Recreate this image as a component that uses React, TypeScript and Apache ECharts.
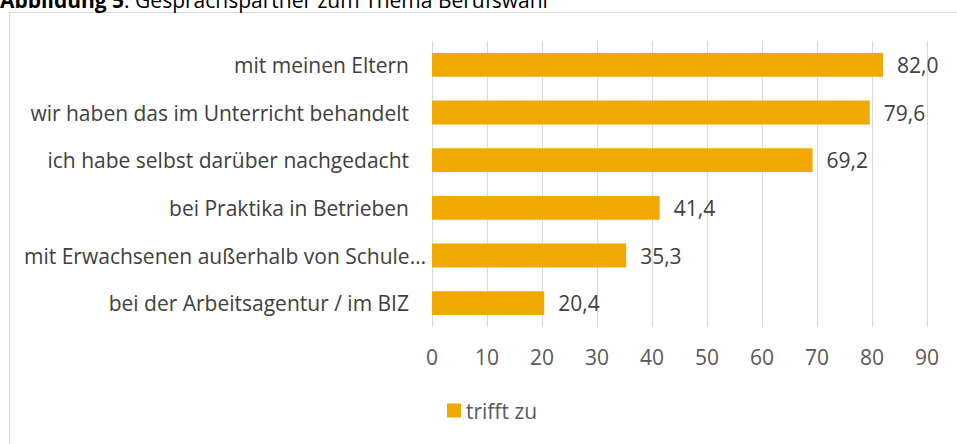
import React, { useEffect, useRef } from "react";
import * as echarts from "echarts";

const categories = [
  "mit meinen Eltern",
  "wir haben das im Unterricht behandelt",
  "ich habe selbst darüber nachgedacht",
  "bei Praktika in Betrieben",
  "mit Erwachsenen außerhalb von Schule…",
  "bei der Arbeitsagentur / im BIZ",
];
const values = [82.0, 79.6, 69.2, 41.4, 35.3, 20.4];
const seriesName = "trifft zu";
const titleBold = "Abbildung 5";
const titleRest = ": Gesprächspartner zum Thema Berufswahl";

const FONT = "'Open Sans', sans-serif";
const FS = 21;

export default function App() {
  const ref = useRef<HTMLDivElement>(null);
  useEffect(() => {
    const chart = echarts.init(ref.current!, null, { renderer: "svg" });
    chart.setOption({
      animation: false,
      backgroundColor: "#ffffff",
      textStyle: { fontFamily: FONT },
      graphic: [
        {
          type: "rect",
          shape: { x: 9.5, y: 12.5, width: 960, height: 440 },
          style: { fill: "none", stroke: "#d9d9d9", lineWidth: 1 },
          silent: true,
        },
        {
          type: "text",
          x: 0,
          y: 10,
          style: {
            text: `{b|${titleBold}}{r|${titleRest}}`,
            verticalAlign: "bottom",
            rich: {
              b: { fontFamily: FONT, fontSize: FS, fontWeight: "bold", fill: "#000" },
              r: { fontFamily: FONT, fontSize: FS, fill: "#000" },
            },
          },
        },
      ],
      grid: { left: 432, right: 30, top: 41, bottom: 117, containLabel: false },
      xAxis: {
        type: "value",
        min: 0,
        max: 90,
        interval: 10,
        axisLine: { show: false },
        axisTick: { show: false },
        splitLine: { lineStyle: { color: "#d9d9d9", width: 1 } },
        axisLabel: { color: "#595959", fontSize: FS, margin: 19, fontFamily: FONT },
      },
      yAxis: {
        type: "category",
        inverse: true,
        data: categories,
        axisLine: { show: false },
        axisTick: { show: false },
        axisLabel: {
          margin: 6,
          formatter: (v: string) => (v.endsWith("…") ? `{b|${v}}` : `{a|${v}}`),
          rich: {
            a: { color: "#404040", fontSize: FS, fontFamily: FONT, padding: [0, 17, 0, 0] },
            b: { color: "#404040", fontSize: FS, fontFamily: FONT },
          },
        },
      },
      legend: {
        left: 447,
        top: 400,
        padding: 0,
        itemWidth: 14,
        itemHeight: 14,
        itemGap: 10,
        icon: "rect",
        textStyle: { color: "#595959", fontSize: FS, fontFamily: FONT },
        data: [seriesName],
      },
      series: [
        {
          type: "bar",
          name: seriesName,
          data: values,
          barWidth: "50%",
          itemStyle: { color: "#F0A900" },
          label: {
            show: true,
            position: "right",
            distance: 14,
            color: "#404040",
            fontSize: FS,
            fontFamily: FONT,
            formatter: (p: any) => p.value.toFixed(1).replace(".", ","),
          },
        },
      ],
    });
    return () => chart.dispose();
  }, []);
  return (
    <div
      ref={ref}
      style={{ position: "fixed", left: 0, top: 0, width: 957, height: 444 }}
    />
  );
}
